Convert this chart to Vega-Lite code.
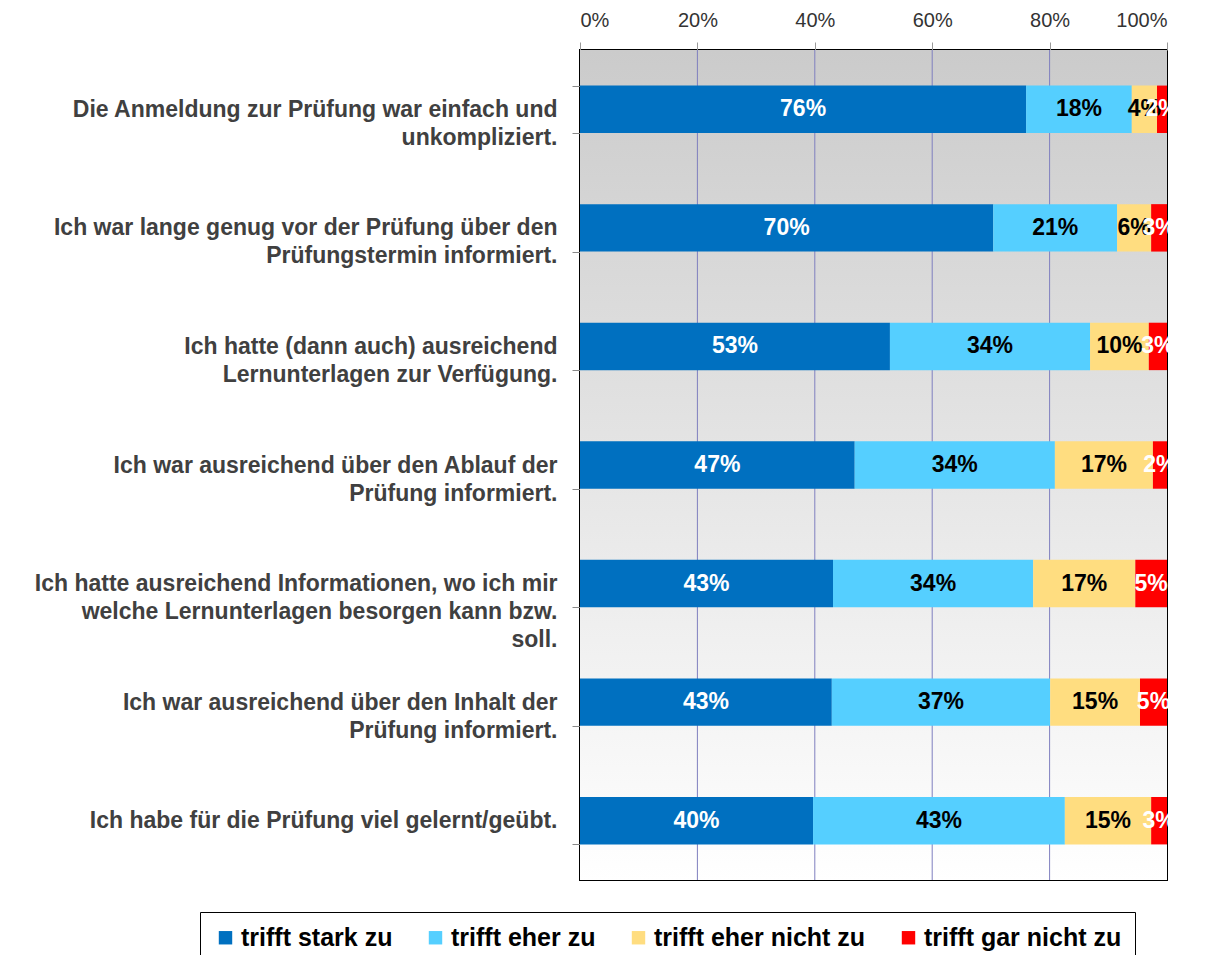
{
  "$schema": "https://vega.github.io/schema/vega-lite/v6.json",
  "width": 587,
  "height": 830,
  "padding": {"left": 34, "top": 10, "right": 40, "bottom": 5},
  "background": "white",
  "config": {
    "font": "Liberation Sans",
    "view": {"stroke": "#000000", "strokeWidth": 2}
  },
  "datasets": {
    "bg": [{"from": 0, "to": 1}],
    "grid": [{"g": 0.2}, {"g": 0.4}, {"g": 0.6}, {"g": 0.8}],
    "main": [
      {"statement": "Die Anmeldung zur Prüfung war einfach und|unkompliziert.", "category": "trifft stark zu", "o": 1, "value": 0.760},
      {"statement": "Die Anmeldung zur Prüfung war einfach und|unkompliziert.", "category": "trifft eher zu", "o": 2, "value": 0.180},
      {"statement": "Die Anmeldung zur Prüfung war einfach und|unkompliziert.", "category": "trifft eher nicht zu", "o": 3, "value": 0.043},
      {"statement": "Die Anmeldung zur Prüfung war einfach und|unkompliziert.", "category": "trifft gar nicht zu", "o": 4, "value": 0.017},
      {"statement": "Ich war lange genug vor der Prüfung über den|Prüfungstermin informiert.", "category": "trifft stark zu", "o": 1, "value": 0.704},
      {"statement": "Ich war lange genug vor der Prüfung über den|Prüfungstermin informiert.", "category": "trifft eher zu", "o": 2, "value": 0.211},
      {"statement": "Ich war lange genug vor der Prüfung über den|Prüfungstermin informiert.", "category": "trifft eher nicht zu", "o": 3, "value": 0.058},
      {"statement": "Ich war lange genug vor der Prüfung über den|Prüfungstermin informiert.", "category": "trifft gar nicht zu", "o": 4, "value": 0.027},
      {"statement": "Ich hatte (dann auch) ausreichend|Lernunterlagen zur Verfügung.", "category": "trifft stark zu", "o": 1, "value": 0.528},
      {"statement": "Ich hatte (dann auch) ausreichend|Lernunterlagen zur Verfügung.", "category": "trifft eher zu", "o": 2, "value": 0.341},
      {"statement": "Ich hatte (dann auch) ausreichend|Lernunterlagen zur Verfügung.", "category": "trifft eher nicht zu", "o": 3, "value": 0.100},
      {"statement": "Ich hatte (dann auch) ausreichend|Lernunterlagen zur Verfügung.", "category": "trifft gar nicht zu", "o": 4, "value": 0.031},
      {"statement": "Ich war ausreichend über den Ablauf der|Prüfung informiert.", "category": "trifft stark zu", "o": 1, "value": 0.468},
      {"statement": "Ich war ausreichend über den Ablauf der|Prüfung informiert.", "category": "trifft eher zu", "o": 2, "value": 0.341},
      {"statement": "Ich war ausreichend über den Ablauf der|Prüfung informiert.", "category": "trifft eher nicht zu", "o": 3, "value": 0.167},
      {"statement": "Ich war ausreichend über den Ablauf der|Prüfung informiert.", "category": "trifft gar nicht zu", "o": 4, "value": 0.024},
      {"statement": "Ich hatte ausreichend Informationen, wo ich mir|welche Lernunterlagen besorgen kann bzw.|soll.", "category": "trifft stark zu", "o": 1, "value": 0.431},
      {"statement": "Ich hatte ausreichend Informationen, wo ich mir|welche Lernunterlagen besorgen kann bzw.|soll.", "category": "trifft eher zu", "o": 2, "value": 0.341},
      {"statement": "Ich hatte ausreichend Informationen, wo ich mir|welche Lernunterlagen besorgen kann bzw.|soll.", "category": "trifft eher nicht zu", "o": 3, "value": 0.174},
      {"statement": "Ich hatte ausreichend Informationen, wo ich mir|welche Lernunterlagen besorgen kann bzw.|soll.", "category": "trifft gar nicht zu", "o": 4, "value": 0.054},
      {"statement": "Ich war ausreichend über den Inhalt der|Prüfung informiert.", "category": "trifft stark zu", "o": 1, "value": 0.429},
      {"statement": "Ich war ausreichend über den Inhalt der|Prüfung informiert.", "category": "trifft eher zu", "o": 2, "value": 0.372},
      {"statement": "Ich war ausreichend über den Inhalt der|Prüfung informiert.", "category": "trifft eher nicht zu", "o": 3, "value": 0.153},
      {"statement": "Ich war ausreichend über den Inhalt der|Prüfung informiert.", "category": "trifft gar nicht zu", "o": 4, "value": 0.046},
      {"statement": "Ich habe für die Prüfung viel gelernt/geübt.", "category": "trifft stark zu", "o": 1, "value": 0.397},
      {"statement": "Ich habe für die Prüfung viel gelernt/geübt.", "category": "trifft eher zu", "o": 2, "value": 0.429},
      {"statement": "Ich habe für die Prüfung viel gelernt/geübt.", "category": "trifft eher nicht zu", "o": 3, "value": 0.147},
      {"statement": "Ich habe für die Prüfung viel gelernt/geübt.", "category": "trifft gar nicht zu", "o": 4, "value": 0.027}
    ]
  },
  "layer": [
    {
      "data": {"name": "bg"},
      "mark": {
        "type": "rect",
        "fill": {"gradient": "linear", "x1": 0, "y1": 0, "x2": 0, "y2": 1,
          "stops": [{"offset": 0, "color": "#cbcbcb"}, {"offset": 1, "color": "#ffffff"}]}
      },
      "encoding": {
        "x": {"field": "from", "type": "quantitative", "scale": {"domain": [0, 1], "nice": false},
          "axis": {
            "orient": "top", "title": null, "format": ".0%", "values": [0, 0.2, 0.4, 0.6, 0.8, 1],
            "domain": false, "tickSize": 8, "tickColor": "#999999",
            "labelFontSize": 20, "labelColor": "#333333", "labelPadding": 12,
            "grid": false
          }},
        "x2": {"field": "to"}
      }
    },
    {
      "data": {"name": "grid"},
      "mark": {"type": "rule", "color": "#7f7fbf", "strokeWidth": 1},
      "encoding": {"x": {"field": "g", "type": "quantitative"}}
    },
    {
      "data": {"name": "main"},
      "encoding": {
        "y": {
          "field": "statement", "type": "nominal", "sort": null,
          "scale": {"paddingInner": 0.6, "paddingOuter": 0.3},
          "axis": {
            "title": null, "domain": false, "grid": false,
            "tickBand": "extent", "tickSize": 8, "tickColor": "#888888",
            "labelExpr": "split(datum.label, '|')",
            "labelFontSize": 23, "labelFontWeight": "bold", "labelColor": "#404040",
            "labelLimit": 0, "labelPadding": 15, "labelLineHeight": 28, "labelAlign": "right"
          }
        }
      },
      "layer": [
        {
          "mark": {"type": "bar"},
          "encoding": {
            "x": {"field": "value", "type": "quantitative", "stack": "zero"},
            "color": {
              "field": "category", "type": "nominal",
              "scale": {
                "domain": ["trifft stark zu", "trifft eher zu", "trifft eher nicht zu", "trifft gar nicht zu"],
                "range": ["#0070c0", "#55cfff", "#ffdd80", "#ff0000"]
              },
              "legend": {
                "title": null, "orient": "none", "legendX": -380, "legendY": 862,
                "direction": "horizontal", "columns": 4, "columnPadding": 30,
                "symbolType": "square", "symbolSize": 180, "symbolStrokeWidth": 0,
                "labelFontSize": 25, "labelFontWeight": "bold", "labelColor": "#000000",
                "labelOffset": 3, "labelLimit": 0,
                "strokeColor": "#000000",
                "padding": 13
              }
            },
            "order": {"field": "o", "type": "quantitative"}
          }
        },
        {
          "mark": {"type": "text", "fontSize": 23, "fontWeight": "bold", "baseline": "middle", "align": "center"},
          "encoding": {
            "x": {"field": "value", "type": "quantitative", "stack": "zero", "bandPosition": 0.5},
            "detail": {"field": "category", "type": "nominal"},
            "order": {"field": "o", "type": "quantitative"},
            "text": {"field": "value", "type": "quantitative", "format": ".0%"},
            "color": {
              "condition": {"test": "datum.category === 'trifft eher zu' || datum.category === 'trifft eher nicht zu'", "value": "#000000"},
              "value": "#ffffff"
            }
          }
        }
      ]
    }
  ]
}
